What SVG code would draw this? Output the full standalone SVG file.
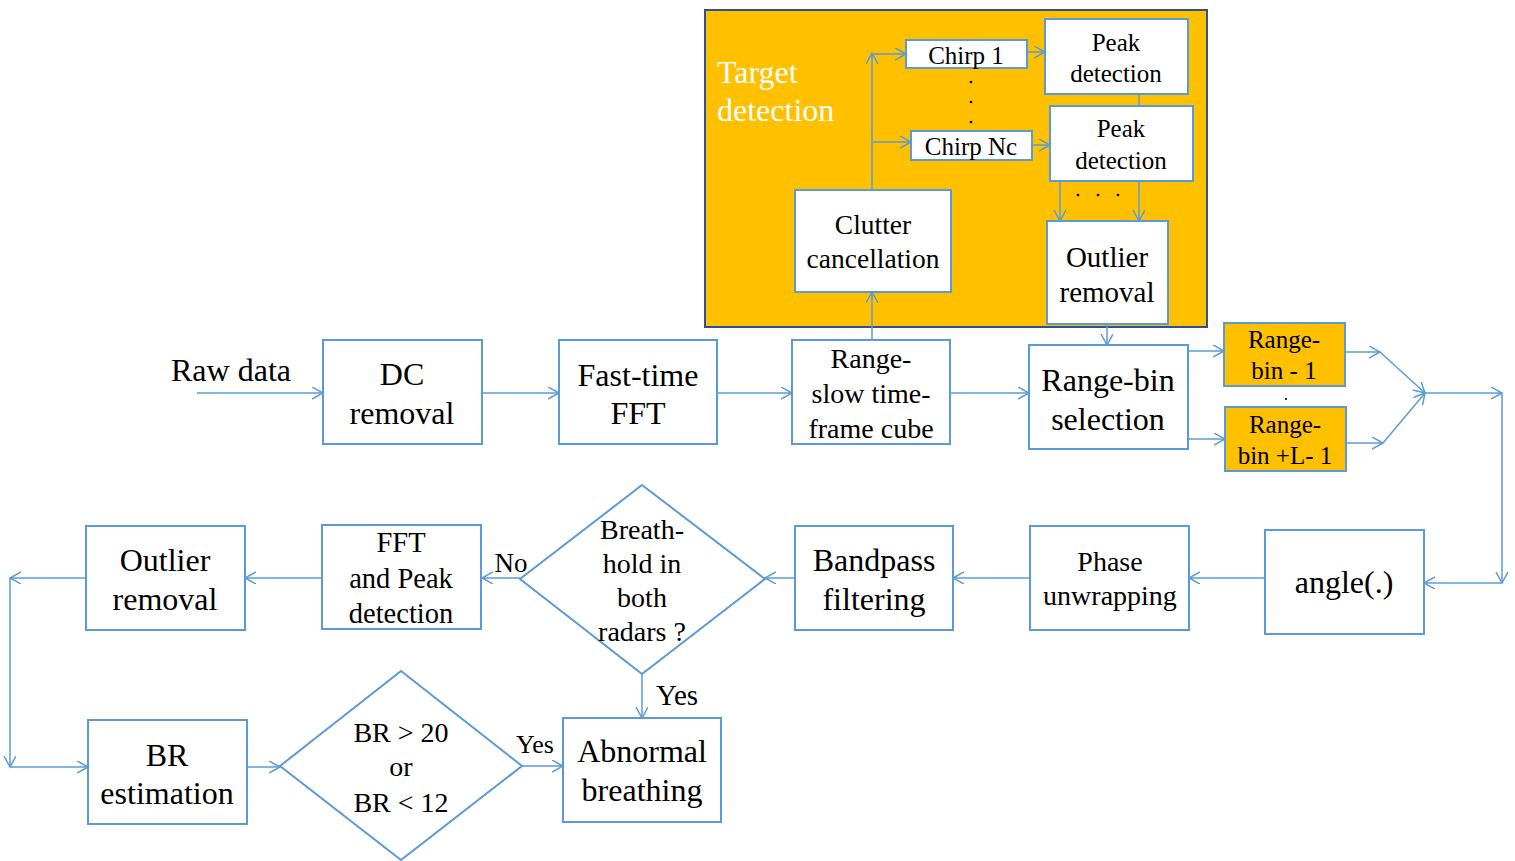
<svg xmlns="http://www.w3.org/2000/svg" width="1515" height="861" viewBox="0 0 1515 861" font-family="'Liberation Serif', 'Times New Roman', serif">
<style>
.b{fill:#fff;stroke:#5B9BD5;stroke-width:2}
.o{fill:#FFC000;stroke:#5B9BD5;stroke-width:2}
text{font-family:'Liberation Serif', 'Times New Roman', serif}
.t{fill:#000;text-anchor:middle}
.c path,.c line{fill:none;stroke:#5B9BD5;stroke-width:1.5}
</style>
<defs>
<marker id="a" markerUnits="userSpaceOnUse" markerWidth="14" markerHeight="14" refX="11" refY="6" orient="auto">
<path d="M0,0 L11,6 L0,12" fill="none" stroke="#5B9BD5" stroke-width="1.5"/>
</marker>
</defs>
<rect width="1515" height="861" fill="#fff"/>
<g id="target-detection">
<rect x="705" y="10" width="502" height="317" fill="#FFC000" stroke="#2F528F" stroke-width="2"/>
<text x="717" y="83" font-size="32" fill="#fff">Target</text>
<text x="717" y="121" font-size="32" fill="#fff">detection</text>
</g>
<g id="chirp1"><rect class="b" x="906" y="40" width="121" height="28"/><text class="t" x="966" y="64" font-size="25">Chirp 1</text></g>
<g id="chirpnc"><rect class="b" x="911" y="131" width="121" height="29"/><text class="t" x="971" y="155" font-size="25">Chirp Nc</text></g>
<g id="peak1"><rect class="b" x="1045" y="19" width="143" height="75"/><text class="t" x="1116" y="51" font-size="25">Peak</text><text class="t" x="1116" y="82" font-size="25">detection</text></g>
<g id="peak2"><rect class="b" x="1050" y="106" width="143" height="75"/><text class="t" x="1121" y="137" font-size="25">Peak</text><text class="t" x="1121" y="169" font-size="25">detection</text></g>
<g id="clutter"><rect class="b" x="795" y="190" width="156" height="102"/><text class="t" x="873" y="234" font-size="27.5">Clutter</text><text class="t" x="873" y="268" font-size="27.5">cancellation</text></g>
<g id="outlier-top"><rect class="b" x="1047" y="221" width="121" height="103"/><text class="t" x="1107" y="267" font-size="29">Outlier</text><text class="t" x="1107" y="302" font-size="29">removal</text></g>
<g id="dots" fill="#000">
<circle cx="971" cy="82" r="1.3"/><circle cx="971" cy="102" r="1.3"/><circle cx="971" cy="122" r="1.3"/>
<circle cx="1078" cy="195" r="1.3"/><circle cx="1098" cy="195" r="1.3"/><circle cx="1118" cy="195" r="1.3"/>
<circle cx="1286" cy="399" r="1.1"/>
</g>
<g id="rawdata"><text class="t" x="231" y="381" font-size="32">Raw data</text></g>
<g id="dc"><rect class="b" x="323" y="340" width="159" height="104"/><text class="t" x="402" y="385" font-size="32">DC</text><text class="t" x="402" y="424" font-size="32">removal</text></g>
<g id="fft"><rect class="b" x="559" y="340" width="158" height="104"/><text class="t" x="638" y="386" font-size="32">Fast-time</text><text class="t" x="638" y="424" font-size="32">FFT</text></g>
<g id="cube"><rect class="b" x="792" y="340" width="158" height="104"/><text class="t" x="871" y="368" font-size="28">Range-</text><text class="t" x="871" y="403" font-size="28">slow time-</text><text class="t" x="871" y="438" font-size="28">frame cube</text></g>
<g id="rbsel"><rect class="b" x="1029" y="345" width="159" height="104"/><text class="t" x="1108" y="391" font-size="32">Range-bin</text><text class="t" x="1108" y="430" font-size="32">selection</text></g>
<g id="rb1"><rect class="o" x="1224" y="323" width="121" height="63"/><text class="t" x="1284" y="348" font-size="25">Range-</text><text class="t" x="1284" y="379" font-size="25">bin - 1</text></g>
<g id="rbl"><rect class="o" x="1225" y="407" width="121" height="64"/><text class="t" x="1285" y="433" font-size="25">Range-</text><text class="t" x="1285" y="464" font-size="25">bin +L- 1</text></g>
<g id="angle"><rect class="b" x="1265" y="530" width="159" height="104"/><text class="t" x="1344" y="593" font-size="32">angle(.)</text></g>
<g id="phase"><rect class="b" x="1030" y="526" width="159" height="104"/><text class="t" x="1110" y="571" font-size="28">Phase</text><text class="t" x="1110" y="605" font-size="28">unwrapping</text></g>
<g id="bandpass"><rect class="b" x="795" y="526" width="158" height="104"/><text class="t" x="874" y="571" font-size="32">Bandpass</text><text class="t" x="874" y="610" font-size="32">filtering</text></g>
<g id="breathhold"><path class="b" d="M642,485 L765,579 L642,674 L520,579 Z"/><text class="t" x="642" y="539" font-size="28">Breath-</text><text class="t" x="642" y="573" font-size="28">hold in</text><text class="t" x="642" y="607" font-size="28">both</text><text class="t" x="642" y="641" font-size="28">radars ?</text></g>
<g id="fftpeak"><rect class="b" x="322" y="525" width="159" height="104"/><text class="t" x="401" y="552" font-size="28.5">FFT</text><text class="t" x="401" y="588" font-size="28.5">and Peak</text><text class="t" x="401" y="623" font-size="28.5">detection</text></g>
<g id="outlier-bottom"><rect class="b" x="86" y="526" width="159" height="104"/><text class="t" x="165" y="571" font-size="32">Outlier</text><text class="t" x="165" y="610" font-size="32">removal</text></g>
<g id="brest"><rect class="b" x="88" y="720" width="159" height="104"/><text class="t" x="167" y="766" font-size="32">BR</text><text class="t" x="167" y="804" font-size="32">estimation</text></g>
<g id="brcheck"><path class="b" d="M401,671 L522,766 L401,860 L280,766 Z"/><text class="t" x="401" y="742" font-size="28">BR &gt; 20</text><text class="t" x="401" y="776" font-size="28">or</text><text class="t" x="401" y="812" font-size="28">BR &lt; 12</text></g>
<g id="abnormal"><rect class="b" x="563" y="718" width="158" height="104"/><text class="t" x="642" y="762" font-size="32">Abnormal</text><text class="t" x="642" y="801" font-size="32">breathing</text></g>
<g id="labels">
<text class="t" x="511" y="572" font-size="27">No</text>
<text class="t" x="677" y="705" font-size="29">Yes</text>
<text class="t" x="535" y="753" font-size="26">Yes</text>
</g>
<g class="c" id="connectors">
<line x1="197" y1="393" x2="323" y2="393" marker-end="url(#a)"/>
<line x1="482" y1="393" x2="559" y2="393" marker-end="url(#a)"/>
<line x1="717" y1="393" x2="792" y2="393" marker-end="url(#a)"/>
<line x1="950" y1="393" x2="1029" y2="393" marker-end="url(#a)"/>
<line x1="872" y1="340" x2="872" y2="292" marker-end="url(#a)"/>
<line x1="872" y1="190" x2="872" y2="53" marker-end="url(#a)"/>
<line x1="872" y1="54" x2="906" y2="54" marker-end="url(#a)"/>
<line x1="872" y1="142" x2="911" y2="142" marker-end="url(#a)"/>
<line x1="1027" y1="52" x2="1045" y2="52" marker-end="url(#a)"/>
<line x1="1032" y1="145" x2="1050" y2="145" marker-end="url(#a)"/>
<line x1="1139" y1="94" x2="1139" y2="106"/>
<line x1="1060" y1="181" x2="1060" y2="221" marker-end="url(#a)"/>
<line x1="1139" y1="181" x2="1139" y2="221" marker-end="url(#a)"/>
<line x1="1107" y1="324" x2="1107" y2="345" marker-end="url(#a)"/>
<line x1="1188" y1="351" x2="1224" y2="351" marker-end="url(#a)"/>
<line x1="1188" y1="439" x2="1225" y2="439" marker-end="url(#a)"/>
<line x1="1345" y1="352" x2="1380" y2="352" marker-end="url(#a)"/>
<line x1="1380" y1="352" x2="1425" y2="393" marker-end="url(#a)"/>
<line x1="1346" y1="443" x2="1383" y2="443" marker-end="url(#a)"/>
<line x1="1383" y1="443" x2="1425" y2="393" marker-end="url(#a)"/>
<line x1="1425" y1="393" x2="1502" y2="393" marker-end="url(#a)"/>
<line x1="1502" y1="393" x2="1502" y2="583" marker-end="url(#a)"/>
<line x1="1502" y1="583" x2="1424" y2="583" marker-end="url(#a)"/>
<line x1="1265" y1="578" x2="1189" y2="578" marker-end="url(#a)"/>
<line x1="1030" y1="578" x2="953" y2="578" marker-end="url(#a)"/>
<line x1="795" y1="578" x2="765" y2="578" marker-end="url(#a)"/>
<line x1="520" y1="578" x2="482" y2="578" marker-end="url(#a)"/>
<line x1="322" y1="578" x2="245" y2="578" marker-end="url(#a)"/>
<line x1="86" y1="578" x2="10" y2="578" marker-end="url(#a)"/>
<line x1="10" y1="578" x2="10" y2="767" marker-end="url(#a)"/>
<line x1="10" y1="767" x2="88" y2="767" marker-end="url(#a)"/>
<line x1="247" y1="767" x2="280" y2="767" marker-end="url(#a)"/>
<line x1="522" y1="766" x2="563" y2="766" marker-end="url(#a)"/>
<line x1="642" y1="674" x2="642" y2="718" marker-end="url(#a)"/>
</g>
</svg>
